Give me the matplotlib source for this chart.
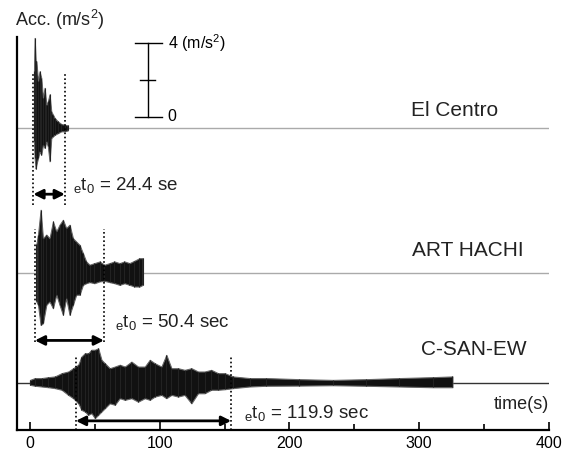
import matplotlib
matplotlib.use('Agg')
import matplotlib.pyplot as plt
from matplotlib.ticker import MultipleLocator

plt.rcParams['font.family'] = ['Liberation Sans', 'DejaVu Sans']
plt.rcParams['mathtext.fontset'] = 'custom'
plt.rcParams['mathtext.rm'] = 'Liberation Sans'
plt.rcParams['mathtext.it'] = 'Liberation Sans'

# envelope of each record (time s, upper / lower acc. m/s^2)
ec_t = [3.1, 3.6, 4.4, 4.9, 6.2, 7.4, 8.7, 10.0, 11.3, 12.6, 13.8, 15.1, 16.4, 17.7, 19.0, 21.5, 24.1, 26.7, 29.2]
ec_up = [3.12, 4.95, 3.7, 3.67, 2.58, 3.12, 2.76, 1.67, 2.22, 1.29, 1.48, 1.86, 0.93, 0.75, 0.57, 0.38, 0.24, 0.20, 0.16]
ec_lo = [-0.71, -1.62, -2.2, -1.99, -1.62, -1.26, -1.44, -0.89, -1.07, -0.71, -0.99, -1.8, -0.53, -0.44, -0.35, -0.26, -0.16, -0.16, -0.11]

ah_t = [4.9, 6.2, 8.2, 10.0, 12.6, 15.1, 17.7, 20.3, 22.8, 25.4, 27.9, 30.5, 33.1, 35.6, 38.2, 40.8, 43.3,
        45.9, 49.7, 53.6, 57.4, 61.3, 65.1, 69.0, 72.8, 76.7, 80.5, 84.4, 86.9]
ah_up = [1.55, 2.09, 3.45, 1.89, 2.09, 1.89, 2.81, 2.27, 2.63, 2.90, 2.45, 2.63, 1.89, 1.71, 1.53, 1.07, 0.62,
         0.44, 0.53, 0.62, 0.44, 0.53, 0.62, 0.53, 0.62, 0.53, 0.66, 0.80, 0.80]
ah_lo = [-1.57, -1.75, -2.85, -2.76, -1.75, -1.57, -1.94, -1.20, -1.75, -2.30, -1.39, -2.30, -1.75, -1.20, -1.20, -0.66, -0.57,
         -0.51, -0.57, -0.47, -0.44, -0.51, -0.57, -0.66, -0.57, -0.66, -0.75, -0.75, -0.66]

cs_t = [0, 3.8, 9.0, 14.1, 19.2, 24.4, 29.5, 33.3, 37.2, 39.7, 42.3, 44.9, 47.4, 50.0, 52.6, 55.1, 57.7, 61.5,
        65.4, 69.2, 73.1, 78.2, 83.3, 88.5, 92.3, 96.2, 101.3, 105.1, 109.0, 114.1, 119.2, 124.4, 129.5, 134.6,
        139.7, 144.9, 150.0, 156.4, 169.2, 182.1, 207.7, 233.3, 259.0, 284.6, 310.3, 325.6]
cs_up = [0.16, 0.26, 0.26, 0.31, 0.35, 0.53, 0.62, 0.80, 0.99, 1.44, 1.62, 1.62, 1.81, 1.81, 1.89, 1.26, 1.07, 0.80,
         0.89, 0.99, 0.89, 1.16, 0.89, 0.89, 1.26, 1.07, 0.89, 1.53, 0.80, 0.80, 0.71, 0.80, 0.62, 0.62,
         0.71, 0.53, 0.53, 0.35, 0.26, 0.26, 0.20, 0.16, 0.20, 0.26, 0.31, 0.35]
cs_lo = [-0.11, -0.16, -0.20, -0.24, -0.29, -0.38, -0.66, -0.84, -1.12, -1.48, -1.57, -1.75, -1.66, -1.93, -1.75, -1.57, -1.39, -1.12,
         -1.20, -0.84, -0.93, -0.84, -1.03, -0.84, -0.93, -0.75, -0.66, -0.84, -0.66, -0.75, -0.66, -1.12, -0.57, -0.57,
         -0.38, -0.38, -0.35, -0.29, -0.20, -0.16, -0.15, -0.13, -0.16, -0.20, -0.24, -0.24]

names = ['El Centro', 'ART HACHI', 'C-SAN-EW']
offsets = [16.5, 8.6, 2.58]
dur_labels = ['24.4 se', '50.4 sec', '119.9 sec']
dur_start = [2.6, 3.8, 35.4]
dur_end = [26.9, 57.0, 155.0]

fig = plt.figure(figsize=(5.73, 4.53), dpi=100)
ax = fig.add_axes([17/573, 1 - 430/453, 532/573, 393/453])
ax.set_xlim(-10, 400)
ax.set_ylim(0, 21.5)

records = [(ec_t, ec_up, ec_lo), (ah_t, ah_up, ah_lo), (cs_t, cs_up, cs_lo)]
base_col = ['#aaaaaa', '#aaaaaa', '#333333']
for (t, up, lo), off, bc in zip(records, offsets, base_col):
    ax.plot([-10, 400], [off, off], color=bc, lw=1, zorder=1)
    ax.fill_between(t, [off + u for u in up], [off + l for l in lo], color='#111111', lw=0.8,
                    edgecolor='#666666', zorder=2)
    # peaks as thin spikes
    ax.vlines(t, [off + l for l in lo], [off + u for u in up], color='#222222', lw=0.8, zorder=2)

# duration markers
dot_y = [(12.3, 19.6), (4.8, 11.0), (0, 4.05)]
arr_y = [12.9, 4.9, 0.5]
lab_xy = [(33, 13.4), (65.4, 5.9), (165, 0.93)]
for i in range(3):
    for xx in (dur_start[i], dur_end[i]):
        ax.plot([xx, xx], dot_y[i], color='black', lw=1.2, ls=(0, (1, 1.5)), zorder=3)
    ax.annotate('', xy=(dur_end[i], arr_y[i]), xytext=(dur_start[i], arr_y[i]),
                arrowprops=dict(arrowstyle='<|-|>', color='black', lw=2, mutation_scale=14,
                                shrinkA=0, shrinkB=0))
    ax.text(lab_xy[i][0], lab_xy[i][1], r'${}_{e}t_{0}$ = ' + dur_labels[i], fontsize=13.5,
            va='center', ha='left', color='#222222')

# record names
name_xy = [(293.8, 17.5), (294.6, 9.8), (301.5, 4.38)]
for nm, (x, y) in zip(names, name_xy):
    ax.text(x, y, nm, fontsize=15, va='center', ha='left', color='#222222')

# scale bar
ax.plot([90.8, 90.8], [17.15, 21.15], color='black', lw=1)
ax.plot([80.8, 101.5], [21.15, 21.15], color='black', lw=1)
ax.plot([80.8, 101.5], [17.15, 17.15], color='black', lw=1)
ax.plot([84.6, 96.2], [19.15, 19.15], color='black', lw=1)
ax.text(106, 21.15, r'4 (m/s$^2$)', fontsize=11.5, va='center', ha='left')
ax.text(106, 17.15, '0', fontsize=11.5, va='center', ha='left')

ax.text(400, 1.37, 'time(s)', fontsize=13, va='center', ha='right', color='#222222')
fig.text(15/573, 1 - 20/453, r'Acc. (m/s$^2$)', fontsize=13, va='center', ha='left', color='#222222')

for s in ['top', 'right']:
    ax.spines[s].set_visible(False)
ax.spines['left'].set_linewidth(1.6)
ax.spines['bottom'].set_linewidth(1.6)
ax.set_yticks([])
ax.xaxis.set_major_locator(MultipleLocator(100))
ax.xaxis.set_minor_locator(MultipleLocator(50))
ax.tick_params(axis='x', which='major', direction='in', length=6, width=1.2, labelsize=11.5, pad=4)
ax.tick_params(axis='x', which='minor', direction='in', length=4, width=1.2)

fig.savefig('out.png', dpi=100)
